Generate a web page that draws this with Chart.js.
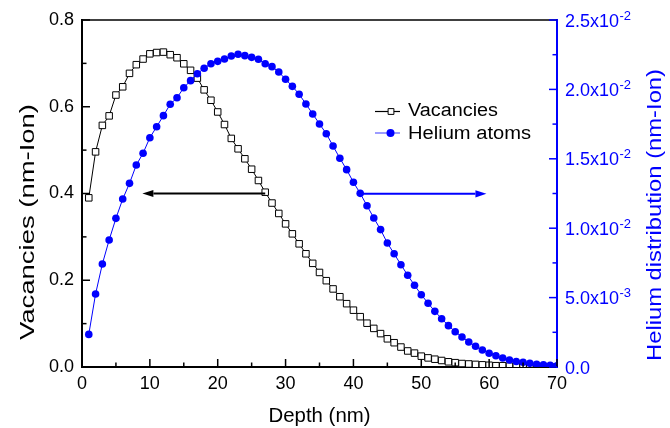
<!DOCTYPE html>
<html><head><meta charset="utf-8">
<script src="https://cdn.jsdelivr.net/npm/chart.js@4.4.1/dist/chart.umd.min.js"></script>
<style>html,body{margin:0;padding:0;background:#fff}</style>
</head><body>
<canvas id="c" width="670" height="428" style="width:670px;height:428px;display:block"></canvas>
<script>
const depth = [1,2,3,4,5,6,7,8,9,10,11,12,13,14,15,16,17,18,19,20,21,22,23,24,25,26,27,28,29,30,31,32,33,34,35,36,37,38,39,40,41,42,43,44,45,46,47,48,49,50,51,52,53,54,55,56,57,58,59,60,61,62,63,64,65,66,67,68,69,70];
const vacancies = [0.390,0.496,0.557,0.579,0.627,0.646,0.677,0.697,0.710,0.722,0.725,0.726,0.720,0.713,0.699,0.684,0.666,0.639,0.615,0.588,0.559,0.527,0.503,0.480,0.456,0.430,0.403,0.378,0.354,0.330,0.307,0.284,0.261,0.239,0.218,0.199,0.180,0.162,0.146,0.131,0.116,0.101,0.089,0.077,0.065,0.056,0.046,0.037,0.032,0.025,0.021,0.018,0.015,0.012,0.010,0.008,0.007,0.006,0.005,0.004,0.003,0.003,0.002,0.002,0.001,0.001,0.001,0.001,0.000,0.000];
const helium = [0.00235,0.00526,0.00742,0.00915,0.01071,0.01210,0.01323,0.01455,0.01540,0.01652,0.01731,0.01811,0.01893,0.01940,0.02012,0.02063,0.02113,0.02152,0.02185,0.02202,0.02219,0.02241,0.02253,0.02243,0.02231,0.02217,0.02185,0.02164,0.02125,0.02073,0.02022,0.01965,0.01895,0.01823,0.01751,0.01681,0.01592,0.01504,0.01422,0.01331,0.01251,0.01162,0.01074,0.00990,0.00893,0.00816,0.00737,0.00661,0.00589,0.00521,0.00459,0.00401,0.00348,0.00298,0.00254,0.00216,0.00180,0.00149,0.00122,0.00099,0.00081,0.00065,0.00050,0.00040,0.00034,0.00027,0.00020,0.00016,0.00012,0.00009];
const xTicks = [0,10,20,30,40,50,60,70];
const yTicks = [0,0.2,0.4,0.6,0.8];
const y2Ticks = [0,0.005,0.01,0.015,0.02,0.025];
const seriesNames = ['Vacancies','Helium atoms'];
const axisTitles = {x:'Depth (nm)', y:'Vacancies (nm-Ion)', y2:'Helium distribution (nm-Ion)'};
// arrows in data units: from depth -> to depth, at value on given axis
const arrows = [
  {axis:'y', from:27, to:8.9, at:0.4, color:'#000000'},
  {axis:'y2', from:41, to:59.6, at:0.01248, color:'#0000ff'}
];

const FAMILY = '"Liberation Sans", Arial, Helvetica, sans-serif';
const BLUE = '#0000ff';

function fitText(ctx, text, x, y, o) {
  ctx.save();
  ctx.font = (o.size) + 'px ' + FAMILY;
  const w = ctx.measureText(text).width;
  const sx = o.target ? o.target / w : 1;
  ctx.translate(x, y);
  if (o.rotation) ctx.rotate(o.rotation);
  ctx.scale(sx, 1);
  ctx.textAlign = o.align || 'left';
  ctx.textBaseline = 'alphabetic';
  ctx.fillStyle = o.color || '#000';
  ctx.fillText(text, 0, 0);
  ctx.restore();
}

function sciParts(v) {
  if (Math.abs(v) < 1e-12) return ['0.0', ''];
  const e = Math.floor(Math.log10(v) + 1e-9);
  const m = v / Math.pow(10, e);
  return [m.toFixed(1) + 'x10', String(e)];
}

const decor = {
  id: 'decor',
  afterDatasetsDraw(chart) {
    const ctx = chart.ctx;
    const xs = chart.scales.x;
    arrows.forEach(a => {
      const ys = chart.scales[a.axis];
      const x1 = xs.getPixelForValue(a.from), x2 = xs.getPixelForValue(a.to);
      const y = ys.getPixelForValue(a.at);
      const dir = Math.sign(x2 - x1);
      const hl = 11, hw = 3.6;
      ctx.save();
      ctx.strokeStyle = a.color; ctx.fillStyle = a.color; ctx.lineWidth = 2;
      ctx.beginPath(); ctx.moveTo(x1, y); ctx.lineTo(x2 - dir * hl, y); ctx.stroke();
      ctx.beginPath(); ctx.moveTo(x2, y); ctx.lineTo(x2 - dir * hl, y - hw); ctx.lineTo(x2 - dir * hl, y + hw); ctx.closePath(); ctx.fill();
      ctx.restore();
    });
  },
  afterDraw(chart) {
    const ctx = chart.ctx;
    const ca = chart.chartArea;
    const xs = chart.scales.x, ys = chart.scales.y, y2 = chart.scales.y2;
    ctx.save();
    // top frame line
    ctx.strokeStyle = '#000'; ctx.lineWidth = 1.5;
    ctx.beginPath(); ctx.moveTo(ca.left, ca.top); ctx.lineTo(ca.right, ca.top); ctx.stroke();
    // inward ticks
    function ticksFor(scale, vals, horiz, edge, dirSign, color) {
      ctx.strokeStyle = color; ctx.lineWidth = 1.5;
      const minors = [];
      for (let i = 0; i < vals.length - 1; i++) minors.push((vals[i] + vals[i + 1]) / 2);
      [[vals, 8], [minors, 4.5]].forEach(([arr, len]) => {
        arr.forEach(v => {
          const p = scale.getPixelForValue(v);
          ctx.beginPath();
          if (horiz) { ctx.moveTo(p, edge); ctx.lineTo(p, edge + dirSign * len); }
          else { ctx.moveTo(edge, p); ctx.lineTo(edge + dirSign * len, p); }
          ctx.stroke();
        });
      });
    }
    ticksFor(xs, xTicks, true, ca.bottom, -1, '#000');
    ticksFor(ys, yTicks, false, ca.left, 1, '#000');
    ticksFor(y2, y2Ticks, false, ca.right, -1, BLUE);
    ctx.restore();

    // right tick labels with superscript exponents
    y2Ticks.forEach(v => {
      const p = y2.getPixelForValue(v);
      const [base, exp] = sciParts(v);
      const bx = ca.right + 8;
      ctx.save();
      ctx.font = '18px ' + FAMILY;
      ctx.fillStyle = BLUE; ctx.textAlign = 'left'; ctx.textBaseline = 'alphabetic';
      ctx.fillText(base, bx, p + 6.5);
      const bw = ctx.measureText(base).width;
      if (exp) {
        ctx.font = '13px ' + FAMILY;
        ctx.fillText(exp, bx + bw + 0.5, p - 0.5);
      }
      ctx.restore();
    });

    // axis titles
    fitText(ctx, axisTitles.y, 33.5, 222, {size: 20, rotation: -Math.PI / 2, align: 'center', target: 236, color: '#000'});
    fitText(ctx, axisTitles.y2, 660.5, 215, {size: 21, rotation: -Math.PI / 2, align: 'center', target: 292, color: BLUE});
    fitText(ctx, axisTitles.x, (ca.left + ca.right) / 2, 421.5, {size: 20, align: 'center', target: 102, color: '#000'});

    // legend
    const rows = [{y: 111.5, base: 116, target: 90}, {y: 133, base: 138.5, target: 123}];
    chart.data.datasets.forEach((ds, i) => {
      const r = rows[i];
      ctx.save();
      ctx.strokeStyle = i === 1 ? '#5a5aff' : ds.borderColor; ctx.lineWidth = 1.2;
      ctx.beginPath(); ctx.moveTo(375, r.y); ctx.lineTo(400, r.y); ctx.stroke();
      ctx.fillStyle = ds.pointBackgroundColor; ctx.strokeStyle = ds.pointBorderColor; ctx.lineWidth = 1;
      ctx.beginPath();
      if (ds.pointStyle === 'rect') {
        const s = 2.9;
        ctx.rect(391 - s, r.y - s, 2 * s, 2 * s);
        ctx.fill(); ctx.stroke();
      } else {
        ctx.arc(390.5, r.y, 4, 0, Math.PI * 2); ctx.fill();
      }
      ctx.restore();
      fitText(ctx, ds.label, 408, r.base, {size: 18, align: 'left', target: r.target, color: '#000'});
    });
  }
};

new Chart(document.getElementById('c'), {
  type: 'line',
  data: {
    labels: depth,
    datasets: [
      {
        label: seriesNames[0], yAxisID: 'y', order: 2,
        data: depth.map((d, i) => ({x: d, y: vacancies[i]})),
        borderColor: '#000000', borderWidth: 1, fill: false, tension: 0,
        pointStyle: 'rect', pointRadius: 4.6, pointBackgroundColor: '#ffffff',
        pointBorderColor: '#000000', pointBorderWidth: 1
      },
      {
        label: seriesNames[1], yAxisID: 'y2', order: 1,
        data: depth.map((d, i) => ({x: d, y: helium[i]})),
        borderColor: BLUE, borderWidth: 1, fill: false, tension: 0,
        pointStyle: 'circle', pointRadius: 3.8, pointBackgroundColor: BLUE,
        pointBorderColor: BLUE, pointBorderWidth: 0
      }
    ]
  },
  options: {
    responsive: false, animation: false, devicePixelRatio: 1,
    layout: {padding: {top: 20, left: 0, right: 0, bottom: 0}},
    plugins: {legend: {display: false}, tooltip: {enabled: false}},
    scales: {
      x: {
        type: 'linear', position: 'bottom', min: 0, max: 70,
        afterBuildTicks: s => { s.ticks = xTicks.map(v => ({value: v})); },
        afterFit: s => { s.height = 61; },
        grid: {display: false, drawTicks: false},
        border: {display: true, color: '#000', width: 2},
        ticks: {color: '#000', font: {family: FAMILY, size: 18}, padding: 6, maxRotation: 0, autoSkip: false,
          callback: v => String(v)}
      },
      y: {
        type: 'linear', position: 'left', min: 0, max: 0.8,
        afterBuildTicks: s => { s.ticks = yTicks.map(v => ({value: v})); },
        afterFit: s => { s.width = 82; },
        grid: {display: false, drawTicks: false},
        border: {display: true, color: '#000', width: 2},
        ticks: {color: '#000', font: {family: FAMILY, size: 18}, padding: 8, autoSkip: false,
          callback: v => Number(v).toFixed(1)}
      },
      y2: {
        type: 'linear', position: 'right', min: 0, max: 0.025,
        afterBuildTicks: s => { s.ticks = y2Ticks.map(v => ({value: v})); },
        afterFit: s => { s.width = 113; },
        grid: {display: false, drawTicks: false},
        border: {display: true, color: BLUE, width: 2},
        ticks: {display: false}
      }
    }
  },
  plugins: [decor]
});
</script>
</body></html>
